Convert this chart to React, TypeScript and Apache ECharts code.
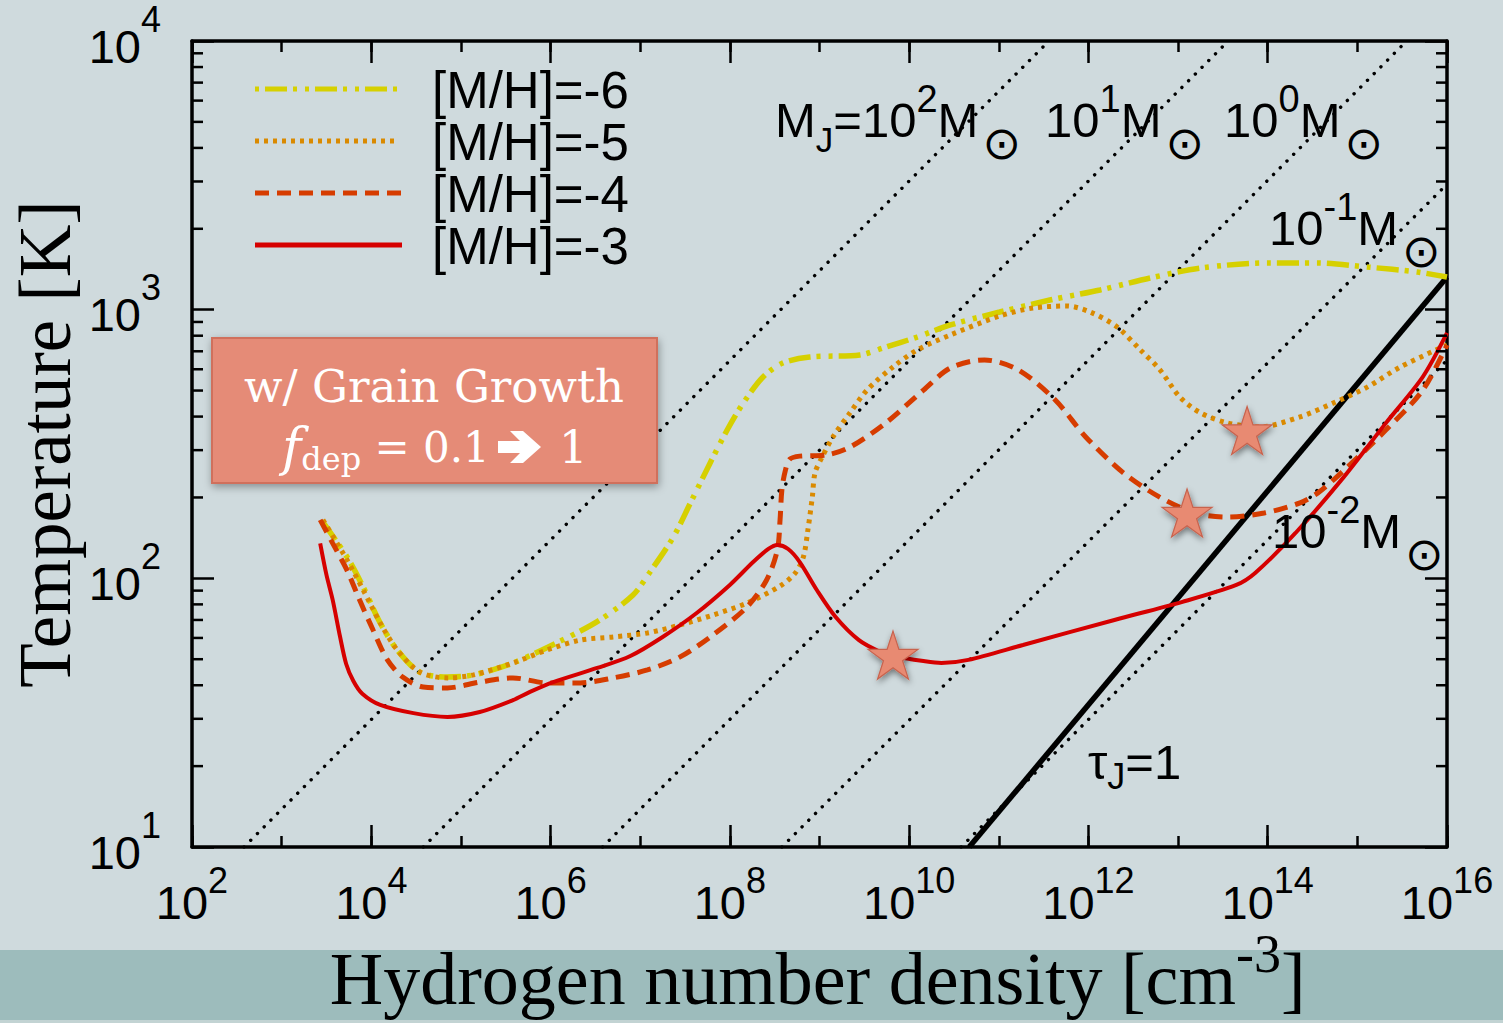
import React, { useEffect, useRef } from "react";
import * as echarts from "echarts";

// ---- data: log10 of hydrogen number density [cm^-3] and temperature [K] ----
const seriesNames = ["[M/H]=-6", "[M/H]=-5", "[M/H]=-4", "[M/H]=-3"];

const logN_m6 = [3.46, 3.73, 3.91, 4.10, 4.29, 4.54, 4.85, 5.14, 5.58, 6.18, 6.55, 6.92, 7.11, 7.37, 7.56, 7.78, 7.97, 8.15, 8.37, 8.59, 8.89, 9.45, 9.71, 10.09, 10.46, 11.01, 11.57, 12.13, 12.69, 13.25, 13.99, 14.55, 15.11, 15.67, 16.0];
const temp_m6 = [162, 120, 92.8, 68.2, 54.1, 44.8, 42.9, 43.7, 48.4, 60.0, 70.0, 86.7, 105.6, 142.5, 190.8, 268.8, 356.5, 449.4, 561.6, 633.2, 666.5, 678.1, 720, 791, 877, 980, 1086, 1184, 1312, 1429, 1492, 1492, 1441, 1381, 1323];

const logN_m5 = [3.46, 3.73, 3.91, 4.10, 4.29, 4.54, 4.85, 5.14, 5.58, 5.96, 6.33, 6.70, 7.08, 7.44, 7.81, 8.19, 8.56, 8.73, 8.82, 8.87, 8.92, 8.95, 9.03, 9.15, 9.34, 9.53, 9.82, 10.09, 10.46, 11.01, 11.38, 11.76, 12.02, 12.32, 12.58, 12.80, 13.02, 13.25, 13.55, 13.91, 14.36, 14.73, 15.11, 15.48, 16.0];
const temp_m5 = [165, 117, 90.5, 68.2, 54.1, 44.8, 42.6, 43.7, 48.4, 54.1, 58.9, 60.5, 62.6, 67.0, 73.0, 80.9, 93.6, 104.7, 120, 151, 201, 247, 283, 336, 413, 502, 612, 708, 805, 947, 1014, 1032, 980, 862, 708, 596, 473, 413, 379, 366, 399, 449, 515, 612, 739];

const logN_m4 = [3.43, 3.57, 3.73, 3.87, 4.02, 4.18, 4.35, 4.58, 4.85, 5.21, 5.58, 5.96, 6.33, 6.70, 7.08, 7.44, 7.81, 8.19, 8.41, 8.53, 8.56, 8.58, 8.62, 8.67, 8.78, 9.08, 9.34, 9.74, 10.16, 10.46, 10.84, 11.22, 11.63, 11.97, 12.39, 12.79, 13.19, 13.55, 13.96, 14.36, 14.56, 14.82, 15.32, 15.73, 16.0];
const temp_m4 = [165, 135, 107, 83, 64.2, 49.7, 42.9, 39.4, 39.1, 41.1, 42.6, 40.8, 40.8, 42.6, 45.6, 50.9, 61.5, 78.2, 98.6, 127.5, 165, 213, 253, 278, 285, 288, 308, 379, 502, 607, 650, 596, 461, 336, 247, 201, 175, 169, 175, 191, 208, 247, 357, 502, 739];

const logN_m3 = [3.43, 3.50, 3.57, 3.65, 3.72, 3.80, 3.90, 4.10, 4.47, 4.85, 5.21, 5.58, 5.77, 6.03, 6.52, 6.89, 7.25, 7.63, 8.00, 8.26, 8.43, 8.53, 8.65, 8.78, 8.97, 9.18, 9.44, 9.68, 9.82, 10.16, 10.36, 10.66, 11.27, 12.29, 13.04, 13.65, 13.86, 14.31, 14.82, 15.32, 15.73, 16.0];
const temp_m3 = [135, 103, 83, 61, 48, 41.5, 37.2, 33.8, 31.5, 30.5, 31.8, 35.2, 37.8, 41.1, 46.4, 51.4, 60.5, 74.3, 94.5, 115, 128.6, 133, 128.6, 115, 90.5, 71.8, 58.9, 53.2, 51.4, 49.2, 48.4, 49.7, 56.5, 70, 81.6, 94.5, 104.7, 147.5, 232, 379, 562, 819];

// constant Jeans-mass lines (10^2 ... 10^-2 Msun), endpoints on the frame
const jeansStartLogN = [2.58, 4.58, 6.58, 8.58, 10.58];
const jeansStartT = [10, 10, 10, 10, 10];
const jeansEndLogN = [11.56, 13.56, 15.55, 16.0, 16.0];
const jeansEndT = [10000, 10000, 10000, 2930, 648];

// tau_J = 1 boundary
const tauLogN = [10.67, 16.0];
const tauT = [10, 1324];

// onset of grain growth
const starLogN = [9.82, 13.1, 13.77];
const starT = [51.8, 175, 355];

// minor ticks of the temperature axis
const tempMinorTicks = [20, 30, 40, 50, 60, 70, 80, 90, 200, 300, 400, 500, 600, 700, 800, 900, 2000, 3000, 4000, 5000, 6000, 7000, 8000, 9000];

const SANS = '"Liberation Sans", Arial, sans-serif';
const SERIF = '"Liberation Serif", "Times New Roman", serif';
const BOXSERIF = '"DejaVu Serif", serif';
const SYM = '"DejaVu Sans", sans-serif';

const STAR_PATH =
  "path://M0,-1L0.2245,-0.309L0.951,-0.309L0.363,0.118L0.588,0.809L0,0.382L-0.588,0.809L-0.363,0.118L-0.951,-0.309L-0.2245,-0.309Z";

const toPairs = (ln: number[], t: number[]) => ln.map((e, i) => [Math.pow(10, e), t[i]]);

const lineColors = ["#d6d000", "#da8a00", "#d63c00", "#d60000"];
const lineDashes: any[] = [[22, 6, 4, 8, 4, 6], [4, 5], [14, 8], "solid"];
const legendDashes: any[] = [[4, 6, 22, 6, 4, 8], [4, 5], [14, 8], null];
const lineWidths = [5.5, 5, 5, 4];

function buildOption() {
  const expLabel = (v: number) => `{b|10}{s|${Math.round(Math.log10(v))}}`;
  const tickStyle = { color: "#000", width: 2.5 };
  const frameStyle = { color: "#000", width: 3.5 };

  const xBase = { type: "log", logBase: 10, min: 1e2, max: 1e16, splitLine: { show: false } };
  const yBase = { type: "log", logBase: 10, min: 10, max: 1e4, splitLine: { show: false } };

  const curves = [
    toPairs(logN_m6, temp_m6),
    toPairs(logN_m5, temp_m5),
    toPairs(logN_m4, temp_m4),
    toPairs(logN_m3, temp_m3),
  ];

  const series: any[] = [];

  jeansStartLogN.forEach((s, i) => {
    series.push({
      type: "line",
      data: [
        [Math.pow(10, s), jeansStartT[i]],
        [Math.pow(10, jeansEndLogN[i]), jeansEndT[i]],
      ],
      symbol: "none",
      lineStyle: { color: "#000", width: 3.4, type: [0.1, 9.4], cap: "round" },
      z: 1,
      silent: true,
    });
  });

  series.push({
    type: "line",
    data: toPairs(tauLogN, tauT),
    symbol: "none",
    lineStyle: { color: "#000", width: 5.5 },
    z: 2,
    silent: true,
  });

  curves.forEach((d, i) => {
    series.push({
      name: seriesNames[i],
      type: "line",
      data: d,
      symbol: "none",
      smooth: 0.3,
      lineStyle: { color: lineColors[i], width: lineWidths[i], type: lineDashes[i], cap: "butt" },
      z: 3 + i,
    });
  });

  series.push({
    type: "scatter",
    data: toPairs(starLogN, starT),
    symbol: STAR_PATH,
    symbolSize: [50, 48],
    itemStyle: {
      color: "#e88a72",
      borderColor: "#c8634e",
      borderWidth: 1.2,
      shadowBlur: 6,
      shadowColor: "rgba(0,0,0,0.45)",
      shadowOffsetX: 1,
      shadowOffsetY: 3,
      opacity: 1,
    },
    z: 10,
  });

  series.push({
    type: "custom",
    data: tempMinorTicks.map((v) => [1e2, v]),
    clip: false,
    silent: true,
    z: 10,
    renderItem: (_p: any, api: any) => {
      const v = api.value(1);
      const l = api.coord([1e2, v]);
      const r = api.coord([1e16, v]);
      const st = { stroke: "#000", lineWidth: 2.5 };
      return {
        type: "group",
        children: [
          { type: "line", shape: { x1: l[0], y1: l[1], x2: l[0] + 11, y2: l[1] }, style: st },
          { type: "line", shape: { x1: r[0] - 11, y1: r[1], x2: r[0], y2: r[1] }, style: st },
        ],
      };
    },
  });

  // legend rows
  const legendY = [89, 141, 193, 245];
  const legendEls: any[] = [];
  seriesNames.forEach((name, i) => {
    legendEls.push({
      type: "line",
      shape: { x1: 255, y1: legendY[i], x2: i === 1 ? 397 : 402, y2: legendY[i] },
      style: { stroke: lineColors[i], lineWidth: 5, lineDash: legendDashes[i] },
      z: 20,
    });
    legendEls.push({
      type: "text",
      x: 432,
      y: legendY[i] + 1,
      style: { text: name, font: `51px ${SANS}`, fill: "#000", textAlign: "left", textVerticalAlign: "middle" },
      z: 20,
    });
  });

  const massRich = {
    m: { fontSize: 49, fontFamily: SANS, fill: "#000", lineHeight: 49 },
    j: { fontSize: 35, fontFamily: SANS, fill: "#000", lineHeight: 35, padding: [38, 0, 0, 0] },
    u: { fontSize: 38, fontFamily: SANS, fill: "#000", lineHeight: 38, padding: [0, 0, 42, 0] },
    o: { fontSize: 46, fontFamily: SYM, fill: "#000", lineHeight: 46, padding: [46, 0, 0, 4] },
  };
  const massLabel = (text: string, x: number, y: number) => ({
    type: "text",
    x,
    y,
    z: 20,
    style: { text, rich: massRich, textAlign: "left", textVerticalAlign: "middle", fill: "#000" },
  });

  const titleFont = `74px ${SERIF}`;

  const graphic: any[] = [
    { type: "rect", shape: { x: 0, y: 950, width: 1503, height: 70 }, style: { fill: "#9dbcbc" }, z: 0 },
    { type: "rect", shape: { x: 0, y: 1020, width: 1503, height: 3 }, style: { fill: "#c2d3d3" }, z: 0 },
    // x-axis title, drawn in three pieces so the superscript sits high
    {
      type: "text",
      x: 1236,
      y: 979,
      z: 5,
      style: { text: "Hydrogen number density [cm", font: titleFont, fill: "#000", textAlign: "right", textVerticalAlign: "middle" },
    },
    {
      type: "text",
      x: 1236,
      y: 954,
      z: 5,
      style: { text: "-3", font: `54px ${SERIF}`, fill: "#000", textAlign: "left", textVerticalAlign: "middle" },
    },
    {
      type: "text",
      x: 1281,
      y: 979,
      z: 5,
      style: { text: "]", font: titleFont, fill: "#000", textAlign: "left", textVerticalAlign: "middle" },
    },
    {
      type: "text",
      x: 45,
      y: 444,
      rotation: Math.PI / 2,
      z: 5,
      style: {
        text: "Temperature [K]",
        font: `73px ${SERIF}`,
        fill: "#000",
        textAlign: "center",
        textVerticalAlign: "middle",
      },
    },
    ...legendEls,
    massLabel("{m|M}{j|J}{m|=10}{u|2}{m|M}{o|⊙}", 775, 120),
    massLabel("{m|10}{u|1}{m|M}{o|⊙}", 1045, 120),
    massLabel("{m|10}{u|0}{m|M}{o|⊙}", 1224, 120),
    massLabel("{m|10}{u|-1}{m|M}{o|⊙}", 1269, 228),
    massLabel("{m|10}{u|-2}{m|M}{o|⊙}", 1272, 531),
    {
      type: "text",
      x: 1088,
      y: 762,
      z: 20,
      style: {
        text: "{m|τ}{j|J}{m|=1}",
        rich: {
          m: { fontSize: 49, fontFamily: SANS, fill: "#000", lineHeight: 49 },
          j: { fontSize: 36, fontFamily: SANS, fill: "#000", lineHeight: 36, padding: [28, 0, 0, 0] },
        },
        textAlign: "left",
        textVerticalAlign: "middle",
      },
    },
    {
      type: "group",
      z: 30,
      children: [
        {
          type: "rect",
          shape: { x: 212, y: 338, width: 445, height: 145 },
          style: {
            fill: "#e58b77",
            stroke: "#d0705c",
            lineWidth: 2,
            shadowBlur: 8,
            shadowColor: "rgba(0,0,0,0.35)",
            shadowOffsetX: 1,
            shadowOffsetY: 3,
          },
          z: 30,
        },
        {
          type: "text",
          x: 434,
          y: 386,
          z: 31,
          style: {
            text: "w/ Grain Growth",
            font: `45px ${BOXSERIF}`,
            fill: "#fff",
            textAlign: "center",
            textVerticalAlign: "middle",
          },
        },
        {
          type: "text",
          x: 282,
          y: 447,
          z: 31,
          style: {
            text: "{f|f}{d|dep}{r| = 0.1}",
            rich: {
              f: { fontSize: 52, fontFamily: BOXSERIF, fontStyle: "italic", fill: "#fff", lineHeight: 52 },
              d: { fontSize: 32, fontFamily: BOXSERIF, fill: "#fff", lineHeight: 32, padding: [24, 0, 0, 0] },
              r: { fontSize: 42, fontFamily: BOXSERIF, fill: "#fff", lineHeight: 42 },
            },
            textAlign: "left",
            textVerticalAlign: "middle",
          },
        },
        {
          // heavy right arrow
          type: "polygon",
          z: 31,
          shape: {
            points: [
              [498, 441], [520, 441], [510, 431], [523, 431], [541, 447],
              [523, 463], [510, 463], [520, 453], [498, 453],
            ],
          },
          style: { fill: "#fff" },
        },
        {
          type: "text",
          x: 559,
          y: 447,
          z: 31,
          style: {
            text: "1",
            font: `45px ${BOXSERIF}`,
            fill: "#fff",
            textAlign: "left",
            textVerticalAlign: "middle",
          },
        },
      ],
    },
  ];

  return {
    animation: false,
    backgroundColor: "#cfdadd",
    grid: { left: 192, right: 56, top: 41, bottom: 176, containLabel: false },
    xAxis: [
      {
        ...xBase,
        position: "bottom",
        interval: 2,
        axisLine: { show: true, onZero: false, lineStyle: frameStyle },
        axisTick: { show: true, inside: true, length: 22, lineStyle: tickStyle },
        axisLabel: {
          show: true,
          margin: 31,
          formatter: expLabel,
          rich: {
            b: { fontSize: 47, fontFamily: SANS, color: "#000", lineHeight: 48 },
            s: { fontSize: 36, fontFamily: SANS, color: "#000", lineHeight: 36, padding: [0, 0, 44, 0] },
          },
        },
      },
      {
        ...xBase,
        position: "bottom",
        interval: 1,
        axisLine: { show: false, onZero: false },
        axisTick: { show: true, inside: true, length: 11, lineStyle: tickStyle },
        axisLabel: { show: false },
      },
      {
        ...xBase,
        position: "top",
        interval: 2,
        axisLine: { show: true, onZero: false, lineStyle: frameStyle },
        axisTick: { show: true, inside: true, length: 22, lineStyle: tickStyle },
        axisLabel: { show: false },
      },
      {
        ...xBase,
        position: "top",
        interval: 1,
        axisLine: { show: false, onZero: false },
        axisTick: { show: true, inside: true, length: 11, lineStyle: tickStyle },
        axisLabel: { show: false },
      },
    ],
    yAxis: [
      {
        ...yBase,
        position: "left",
        interval: 1,
        axisLine: { show: true, onZero: false, lineStyle: frameStyle },
        axisTick: { show: true, inside: true, length: 22, lineStyle: tickStyle },
        axisLabel: {
          show: true,
          margin: 31,
          formatter: expLabel,
          rich: {
            b: { fontSize: 47, fontFamily: SANS, color: "#000", lineHeight: 48, padding: [10, 0, 0, 0] },
            s: { fontSize: 36, fontFamily: SANS, color: "#000", lineHeight: 36, padding: [0, 0, 44, 0] },
          },
        },
      },
      {
        ...yBase,
        position: "right",
        interval: 1,
        axisLine: { show: true, onZero: false, lineStyle: frameStyle },
        axisTick: { show: true, inside: true, length: 22, lineStyle: tickStyle },
        axisLabel: { show: false },
      },
    ],
    series,
    graphic,
  };
}

export default function App() {
  const ref = useRef<HTMLDivElement>(null);
  useEffect(() => {
    if (!ref.current) return;
    const chart = echarts.init(ref.current, undefined, { renderer: "svg" });
    chart.setOption(buildOption() as any);
    return () => chart.dispose();
  }, []);
  return (
    <div
      ref={ref}
      style={{ position: "absolute", left: 0, top: 0, width: 1503, height: 1023 }}
    />
  );
}
